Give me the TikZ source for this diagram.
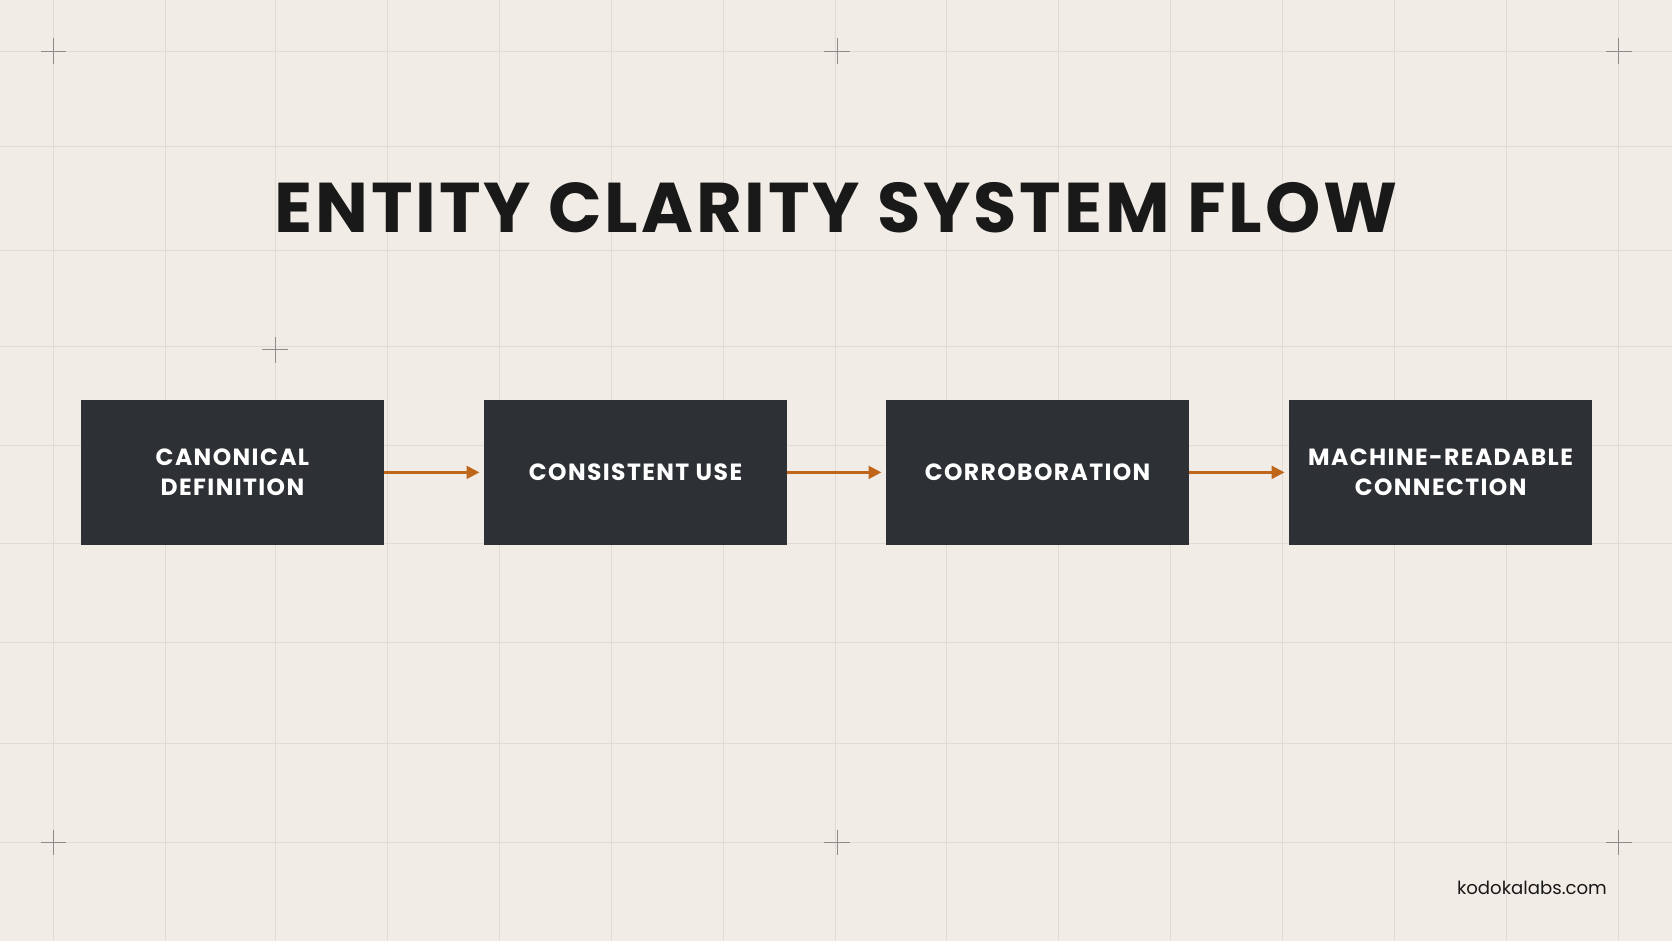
\documentclass[tikz,border=0pt]{standalone}
\usepackage{fontspec}
\setmainfont{Poppins}
\usetikzlibrary{arrows.meta}
\definecolor{bg}{HTML}{F1EDE6}
\definecolor{gridc}{HTML}{E0DCD5}
\definecolor{boxc}{HTML}{2D3135}
\definecolor{arr}{HTML}{C0661A}
\begin{document}
\begin{tikzpicture}[x=0.5pt,y=-0.5pt,
  box/.style={fill=boxc,draw=none,minimum width=142pt,minimum height=68pt,inner sep=0pt,
    text=white,align=center,font=\fontsize{11}{14}\selectfont\addfontfeatures{LetterSpace=6}\bfseries},
  flow/.style={arr,line width=1.1pt,-{Triangle[length=6pt,width=6pt]},shorten >=2pt},
  cross/.style={draw=black!45,line width=0.4pt}]
\fill[bg] (0,0) rectangle (1568,882);
\useasboundingbox (0,0) rectangle (1568,882);
\foreach \x in {50,155,258,363,468,573,678,783,888,993,1098,1203,1308,1413,1518}
  \draw[gridc,line width=0.4pt] (\x,0) -- (\x,882);
\foreach \y in {48,137,235,325,418,510,602,697,790}
  \draw[gridc,line width=0.4pt] (0,\y) -- (1568,\y);
\foreach \p in {(50,48),(785,48),(1518,48),(258,328),(50,790),(785,790),(1518,790)}{
  \draw[cross] \p ++(-12,0) -- ++(24,0);
  \draw[cross] \p ++(0,-12) -- ++(0,24);}
\node[font=\fontsize{33}{38}\selectfont\addfontfeatures{LetterSpace=4}\bfseries,text=black!90] (title) at (784,195) {ENTITY CLARITY SYSTEM FLOW};
\node[box] (b1) at (218,443) {CANONICAL\\DEFINITION};
\node[box] (b2) at (596,443) {CONSISTENT USE};
\node[box] (b3) at (973,443) {CORROBORATION};
\node[box] (b4) at (1351,443) {MACHINE-READABLE\\CONNECTION};
\draw[flow] (b1) -- (b2);
\draw[flow] (b2) -- (b3);
\draw[flow] (b3) -- (b4);
\node[font=\fontsize{8.5}{10}\selectfont,text=black!90,anchor=east] (foot) at (1514,833) {kodokalabs.com};
\end{tikzpicture}
\end{document}
